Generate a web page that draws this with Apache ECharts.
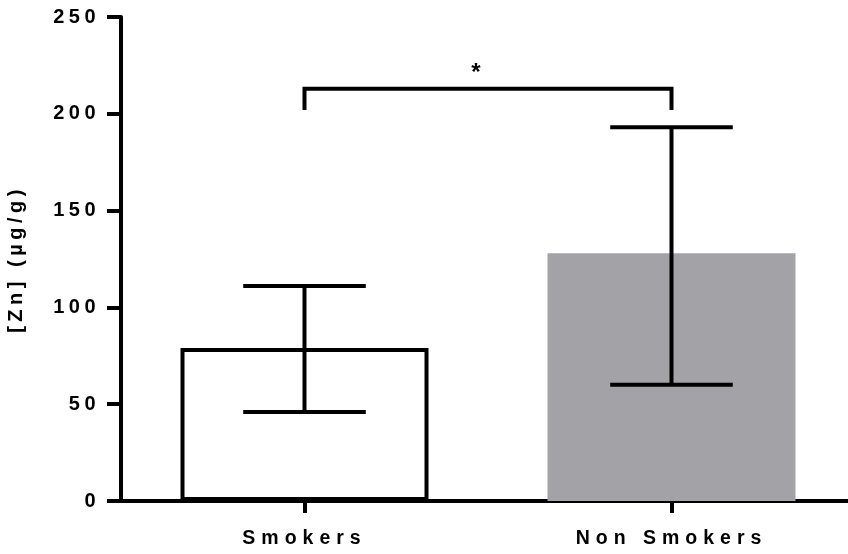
<!DOCTYPE html>
<html>
<head>
<meta charset="utf-8">
<script src="https://cdn.jsdelivr.net/npm/echarts@6/dist/echarts.min.js"></script>
<style>html,body{margin:0;padding:0;background:#fff}#c{width:848px;height:554px}</style>
</head>
<body>
<div id="c"></div>
<script>
var categories = ['Smokers', 'Non Smokers'];
var means = [79, 128];
var errLow = [46, 60];
var errHigh = [111, 193];
var yTicks = [0, 50, 100, 150, 200, 250];
var bracketY = 213;
var bracketDrop = 202;
var sigLabel = '*';

var FONT = 'Liberation Sans, Arial, sans-serif';

// reproduce the wide letter spacing of the original text (spacing keyed by font size)
(function () {
  var P = CanvasRenderingContext2D.prototype;
  var oFill = P.fillText, oMeasure = P.measureText;
  function sp(ctx) {
    var f = ctx.font || '';
    var s = '0px';
    if (f.indexOf('20px') >= 0) s = '4.5px';
    else if (f.indexOf('19.5px') >= 0) s = '6px';
    try { ctx.letterSpacing = s; } catch (e) {}
  }
  P.fillText = function () { sp(this); return oFill.apply(this, arguments); };
  P.measureText = function () { sp(this); return oMeasure.apply(this, arguments); };
})();

var chart = echarts.init(document.getElementById('c'));

var barData = means.map(function (v, i) {
  return i === 0
    ? { value: v, itemStyle: { color: '#ffffff', borderColor: '#000', borderWidth: 4 } }
    : { value: v, itemStyle: { color: '#a3a2a7', borderWidth: 0 } };
});
var errData = categories.map(function (c, i) { return [i, errLow[i], errHigh[i]]; });

chart.setOption({
  animation: false,
  grid: { left: 121, width: 734, top: 17, bottom: 53, outerBoundsMode: 'none', containLabel: false },
  xAxis: {
    type: 'category',
    data: categories,
    boundaryGap: true,
    axisLine: { lineStyle: { color: '#000', width: 4 } },
    axisTick: { show: true, alignWithLabel: true, length: 12, lineStyle: { color: '#000', width: 4 } },
    axisLabel: { color: '#000', fontFamily: FONT, fontWeight: 'bold', fontSize: 19.5, margin: 25 }
  },
  yAxis: {
    type: 'value',
    min: yTicks[0], max: yTicks[yTicks.length - 1], interval: 50,
    name: '[Zn] (µg/g)',
    nameLocation: 'middle',
    nameGap: 92,
    nameRotate: 90,
    nameTextStyle: { color: '#000', fontFamily: FONT, fontWeight: 'bold', fontSize: 20 },
    axisLine: { show: true, lineStyle: { color: '#000', width: 4 } },
    axisTick: { show: true, length: 14, lineStyle: { color: '#000', width: 4 } },
    splitLine: { show: false },
    axisLabel: { color: '#000', fontFamily: FONT, fontWeight: 'bold', fontSize: 20, margin: 21 }
  },
  series: [
    {
      type: 'bar',
      data: barData,
      barWidth: 248,
      z: 2
    },
    {
      type: 'custom',
      z: 5,
      data: errData,
      renderItem: function (params, api) {
        var x = api.value(0);
        var lo = api.coord([x, api.value(1)]);
        var hi = api.coord([x, api.value(2)]);
        var hw = api.size([1, 0])[0] * 0.167;
        var st = { stroke: '#000', lineWidth: 4 };
        return {
          type: 'group',
          children: [
            { type: 'line', shape: { x1: lo[0], y1: lo[1], x2: hi[0], y2: hi[1] }, style: st },
            { type: 'line', shape: { x1: hi[0] - hw, y1: hi[1], x2: hi[0] + hw, y2: hi[1] }, style: st },
            { type: 'line', shape: { x1: lo[0] - hw, y1: lo[1], x2: lo[0] + hw, y2: lo[1] }, style: st }
          ]
        };
      }
    },
    {
      type: 'custom',
      z: 5,
      data: [[0, 1, bracketY, bracketDrop]],
      renderItem: function (params, api) {
        var a0 = api.coord([api.value(0), api.value(3)]);
        var a1 = api.coord([api.value(0), api.value(2)]);
        var b1 = api.coord([api.value(1), api.value(2)]);
        var b0 = api.coord([api.value(1), api.value(3)]);
        return {
          type: 'group',
          children: [
            { type: 'polyline', shape: { points: [a0, a1, b1, b0] },
              style: { stroke: '#000', lineWidth: 4, fill: null, lineJoin: 'miter' } },
            { type: 'text', x: (a1[0] + b1[0]) / 2 - 12, y: a1[1] - 3,
              style: { text: sigLabel, fill: '#000', font: 'bold 24px ' + FONT, align: 'center', verticalAlign: 'bottom' } }
          ]
        };
      }
    }
  ]
});
</script>
</body>
</html>
